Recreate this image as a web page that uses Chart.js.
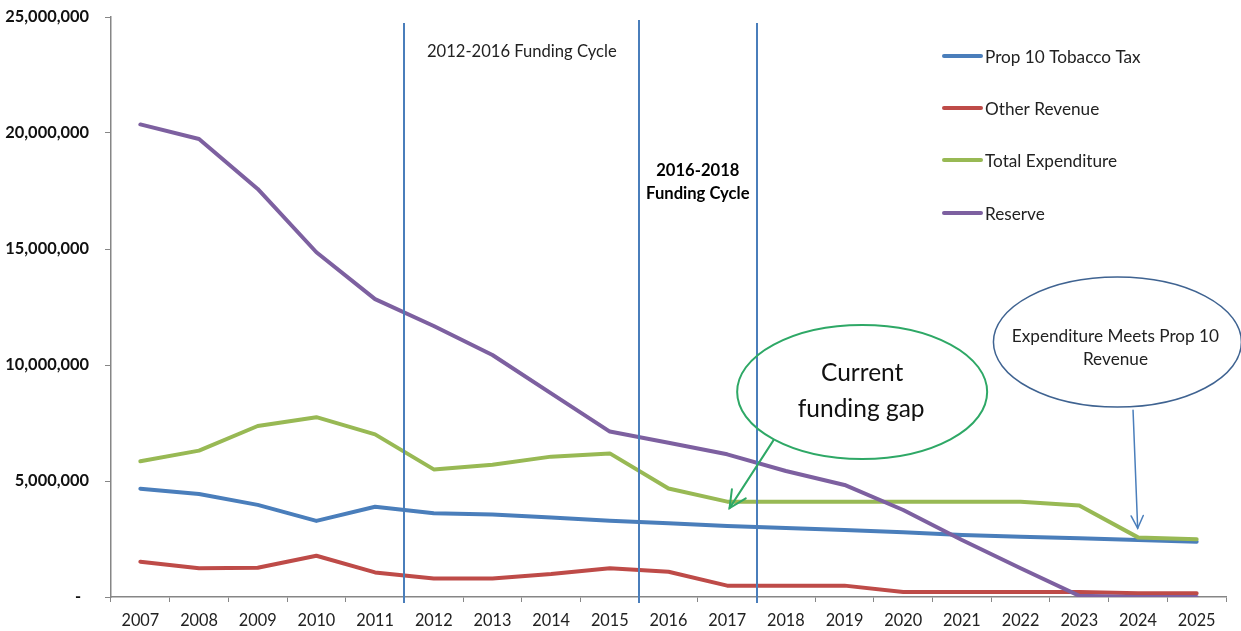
<!DOCTYPE html>
<html>
<head>
<meta charset="utf-8">
<script src="https://cdn.jsdelivr.net/npm/chart.js@4.4.0/dist/chart.umd.min.js"></script>
<style>
html,body{margin:0;padding:0;background:#fff;}
#wrap{width:1241px;height:631px;position:relative;}
</style>
</head>
<body>
<div id="wrap"><canvas id="c" width="1241" height="631"></canvas></div>
<script>
// ---- data ----
const years = ['2007','2008','2009','2010','2011','2012','2013','2014','2015','2016','2017','2018','2019','2020','2021','2022','2023','2024','2025'];
const prop10 = [4670000,4440000,3970000,3280000,3890000,3610000,3560000,3430000,3290000,3180000,3060000,2970000,2890000,2790000,2670000,2600000,2530000,2460000,2380000];
const otherRevenue = [1520000,1240000,1260000,1780000,1060000,800000,800000,990000,1240000,1090000,490000,490000,490000,220000,220000,220000,220000,160000,160000];
const totalExpenditure = [5850000,6310000,7370000,7750000,7010000,5500000,5700000,6050000,6190000,4680000,4110000,4110000,4110000,4110000,4110000,4110000,3940000,2570000,2490000];
const reserve = [20370000,19740000,17590000,14860000,12840000,11680000,10430000,8780000,7130000,6650000,6150000,5430000,4830000,3750000,2460000,1240000,50000,0,0];
const seriesNames = ['Prop 10 Tobacco Tax','Other Revenue','Total Expenditure','Reserve'];
const yTickValues = [0,5000000,10000000,15000000,20000000,25000000];
const cycleBreaks = [['2011','2012'],['2015','2016'],['2017','2018']];
const cycleLabels = ['2012-2016 Funding Cycle','2016-2018','Funding Cycle'];
const gapLabel = ['Current','funding gap'];
const meetLabel = ['Expenditure Meets Prop 10','Revenue'];

// ---- styles ----
const colors = ['#4A7EBB','#BE4B48','#98B954','#7D60A0'];
const FONT = 'Lato, "Liberation Sans", sans-serif';

const ds = (label, data, i, order) => ({
  label, data, borderColor: colors[i], backgroundColor: colors[i],
  borderWidth: 4, pointRadius: 0, pointHoverRadius: 0, tension: 0,
  borderJoinStyle: 'round', borderCapStyle: 'round', fill: false, order
});

function arrow(ctx, x0, y0, x1, y1, head, color, width) {
  ctx.strokeStyle = color; ctx.lineWidth = width; ctx.lineCap = 'round';
  ctx.beginPath(); ctx.moveTo(x0, y0); ctx.lineTo(x1, y1); ctx.stroke();
  const ang = Math.atan2(y1 - y0, x1 - x0);
  const a = 0.45;
  ctx.beginPath();
  ctx.moveTo(x1 - head * Math.cos(ang - a), y1 - head * Math.sin(ang - a));
  ctx.lineTo(x1, y1);
  ctx.lineTo(x1 - head * Math.cos(ang + a), y1 - head * Math.sin(ang + a));
  ctx.stroke();
}

const annot = {
  id: 'annot',
  afterDatasetsDraw(chart) {
    const { ctx, chartArea: a, scales: { x, y } } = chart;
    const X = i => x.getPixelForValue(i);
    const Y = v => y.getPixelForValue(v);
    ctx.save();
    // funding cycle dividers
    ctx.strokeStyle = '#4A7EBB'; ctx.lineWidth = 2;
    const tops = [a.top + 6, a.top + 3, a.top + 6];
    cycleBreaks.forEach((b, k) => {
      const px = Math.round((X(years.indexOf(b[0])) + X(years.indexOf(b[1]))) / 2);
      ctx.beginPath(); ctx.moveTo(px, tops[k]); ctx.lineTo(px, a.bottom + 6); ctx.stroke();
    });
    // cycle labels
    ctx.fillStyle = '#222'; ctx.textAlign = 'center'; ctx.textBaseline = 'middle';
    ctx.font = '16.6px ' + FONT;
    ctx.fillText(cycleLabels[0], X(6.5), Y(23500000));
    ctx.font = 'bold 16.6px ' + FONT;
    ctx.fillStyle = '#000';
    ctx.fillText(cycleLabels[1], X(9.5), Y(18370000));
    ctx.fillText(cycleLabels[2], X(9.5), Y(17400000));

    // funding gap ellipse
    const gx = X(12.3), gy = Y(8840000);
    ctx.strokeStyle = '#2EA866'; ctx.lineWidth = 2;
    ctx.beginPath(); ctx.ellipse(gx, gy, 125, 67, 0, 0, Math.PI * 2); ctx.stroke();
    ctx.fillStyle = '#111'; ctx.font = '24.5px ' + FONT;
    ctx.fillText(gapLabel[0], gx, gy - 19);
    ctx.fillText(gapLabel[1], gx - 1, gy + 17);
    arrow(ctx, X(10.785), Y(6740000), X(10.04), Y(3830000), 19, '#2EA866', 2);

    // expenditure meets revenue ellipse
    const bx = X(16.65), by = Y(10990000);
    ctx.strokeStyle = '#3F6391'; ctx.lineWidth = 1.5;
    ctx.beginPath(); ctx.ellipse(bx, by, 124, 65, 0, 0, Math.PI * 2); ctx.stroke();
    ctx.fillStyle = '#222'; ctx.font = '17.2px ' + FONT;
    ctx.fillText(meetLabel[0], bx - 2, by - 6);
    ctx.fillText(meetLabel[1], bx - 2, by + 17);
    arrow(ctx, X(16.916), Y(8050000), X(16.995), Y(2960000), 14, '#4A7EBB', 1.5);

    // legend
    ctx.textAlign = 'left'; ctx.font = '17.2px ' + FONT;
    const lx = 944, ly = [56, 108, 160, 213];
    seriesNames.forEach((n, i) => {
      ctx.strokeStyle = colors[i]; ctx.lineWidth = 4; ctx.lineCap = 'round';
      ctx.beginPath(); ctx.moveTo(lx, ly[i]); ctx.lineTo(lx + 37, ly[i]); ctx.stroke();
      ctx.fillStyle = '#222';
      ctx.fillText(n, lx + 41, ly[i] + 1);
    });
    ctx.restore();
  }
};

new Chart(document.getElementById('c'), {
  type: 'line',
  data: {
    labels: years,
    datasets: [
      ds(seriesNames[0], prop10, 0, 4),
      ds(seriesNames[1], otherRevenue, 1, 3),
      ds(seriesNames[2], totalExpenditure, 2, 2),
      ds(seriesNames[3], reserve, 3, 1)
    ]
  },
  options: {
    responsive: false,
    animation: false,
    devicePixelRatio: 1,
    layout: { padding: { top: 17, right: 15, left: 0, bottom: 0 } },
    plugins: { legend: { display: false }, tooltip: { enabled: false } },
    scales: {
      x: {
        type: 'category',
        offset: true,
        grid: { display: true, offset: true, drawOnChartArea: false, drawTicks: true, tickLength: 5, color: '#868686', lineWidth: 1 },
        border: { display: true, color: '#868686', width: 1.5 },
        ticks: { color: '#222', font: { family: FONT, size: 16.3 }, padding: 9, maxRotation: 0, autoSkip: false },
        afterFit: s => { s.height = 34; s.paddingLeft = 0; s.paddingRight = 0; }
      },
      y: {
        min: 0, max: 25000000,
        afterBuildTicks: s => { s.ticks = yTickValues.map(v => ({ value: v })); },
        grid: { display: true, drawOnChartArea: false, drawTicks: true, tickLength: 6, color: '#868686', lineWidth: 1 },
        border: { display: true, color: '#868686', width: 1.5 },
        ticks: {
          color: '#111', font: { family: FONT, size: 16.4, weight: 'bold' }, padding: 16,
          callback: v => v === 0 ? '-  ' : Number(v).toLocaleString('en-US')
        },
        afterFit: s => { s.width = 111; s.paddingTop = 0; s.paddingBottom = 0; }
      }
    }
  },
  plugins: [annot]
});
</script>
</body>
</html>
